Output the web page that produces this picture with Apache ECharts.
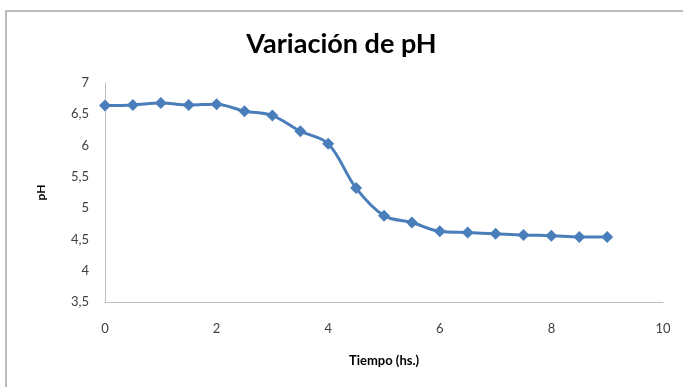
<!DOCTYPE html>
<html>
<head>
<meta charset="utf-8">
<script src="https://cdn.jsdelivr.net/npm/echarts@6/dist/echarts.min.js"></script>
<style>
  html, body { margin: 0; padding: 0; background: #fff; }
  #chart { width: 683px; height: 387px; }
</style>
</head>
<body>
<div id="chart"></div>
<script>
// horas y valores de pH
var tiempo = [0, 0.5, 1, 1.5, 2, 2.5, 3, 3.5, 4, 4.5, 5, 5.5, 6, 6.5, 7, 7.5, 8, 8.5, 9];
var ph = [6.64, 6.65, 6.68, 6.65, 6.66, 6.55, 6.48, 6.23, 6.03, 5.32, 4.88, 4.77, 4.63, 4.61, 4.59, 4.57, 4.56, 4.54, 4.54];
var xTicks = [0, 2, 4, 6, 8, 10];

var myChart = echarts.init(document.getElementById('chart'), null, { renderer: 'canvas' });

var fuente = 'Lato, "Open Sans", sans-serif';

var option = {
    animation: false,
    graphic: [
        {
            type: 'rect',
            shape: { x: 6, y: 11, width: 700, height: 400 },
            style: { fill: 'none', stroke: '#a6a6a6', lineWidth: 1.5 }
        }
    ],
    title: {
        text: 'Variación de pH',
        left: 'center',
        top: 26,
        textStyle: { fontFamily: fuente, fontSize: 27, fontWeight: 'bold', color: '#000' }
    },
    grid: { left: 105, right: 20, top: 83, bottom: 85 },
    xAxis: {
        type: 'value',
        min: 0,
        max: 10,
        interval: 2,
        name: 'Tiempo (hs.)',
        nameLocation: 'middle',
        nameGap: 52,
        nameTextStyle: { fontFamily: fuente, fontSize: 13, fontWeight: 'bold', color: '#000' },
        axisLine: { lineStyle: { color: '#bfbfbf', width: 1 } },
        axisTick: { show: false },
        splitLine: { show: false },
        axisLabel: {
            margin: 20,
            fontFamily: fuente, fontSize: 13, color: '#404040',
            formatter: function (v) { return xTicks.indexOf(v) >= 0 ? String(v) : ''; }
        }
    },
    yAxis: {
        type: 'value',
        min: 3.5,
        max: 7,
        interval: 0.5,
        name: 'pH',
        nameLocation: 'middle',
        nameGap: 58,
        nameRotate: 90,
        nameTextStyle: { fontFamily: fuente, fontSize: 12, fontWeight: 'bold', color: '#000' },
        axisLine: { show: true, lineStyle: { color: '#bfbfbf', width: 1 } },
        axisTick: { show: false },
        splitLine: { show: false },
        axisLabel: {
            margin: 16,
            fontFamily: fuente, fontSize: 13, color: '#404040',
            formatter: function (v) { return String(v).replace('.', ','); }
        }
    },
    series: [
        {
            type: 'line',
            data: tiempo.map(function (t, i) { return [t, ph[i]]; }),
            smooth: 0.35,
            symbol: 'diamond',
            symbolSize: 12,
            lineStyle: { color: '#4a7ebb', width: 3 },
            itemStyle: { color: '#4a7ebb' }
        }
    ]
};

myChart.setOption(option);
</script>
</body>
</html>
